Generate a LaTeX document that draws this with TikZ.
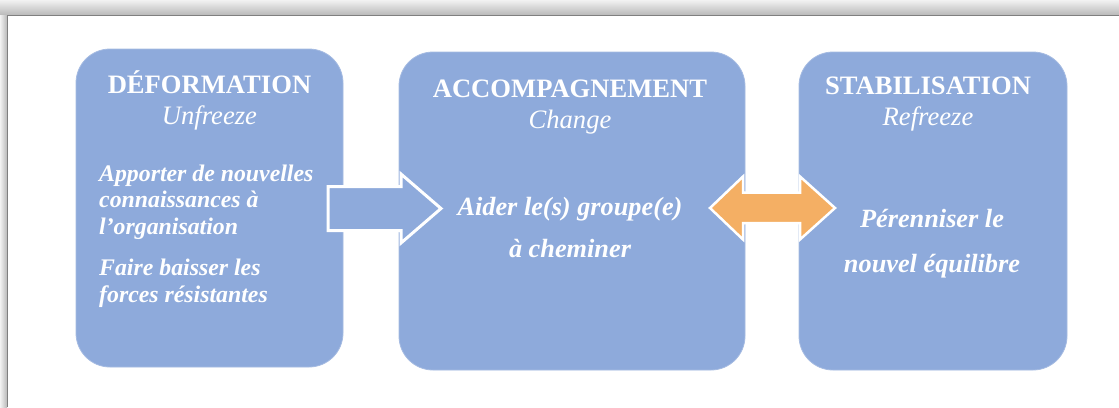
\documentclass[tikz,border=0pt]{standalone}
\usepackage{fontspec}
\setmainfont{Liberation Serif}
\definecolor{boxblue}{HTML}{8EAADB}
\definecolor{arrorange}{HTML}{F4AF64}
\definecolor{framegray}{HTML}{7F7F7F}
\begin{document}
\begin{tikzpicture}[x=1pt,y=-1pt,
  stagebox/.style={fill=boxblue, draw=boxblue!80!white, line width=0.8pt, rounded corners=34pt, inner sep=0pt},
  titletext/.style={text=white, inner sep=0pt, anchor=base, align=center, font=\fontsize{26.6}{31}\selectfont},
  bodytext/.style={text=white, inner sep=0pt, font=\fontsize{23.8}{26.7}\selectfont\bfseries\itshape},
  bigbody/.style={text=white, inner sep=0pt, anchor=base, align=center, font=\fontsize{26.3}{43}\selectfont\bfseries\itshape},
  blockarrow/.style={draw=white, line width=3pt, line join=miter}
]
\useasboundingbox (0,0) rectangle (1119,407);
% page with shadow
\fill[white] (0,0) rectangle (1119,407);
\shade[top color=gray!10, bottom color=gray!55] (0,0) rectangle (1119,15);
\shade[left color=gray!10, right color=gray!55] (0,15) rectangle (7,407);
\fill[white] (7,15) rectangle (1119,407);
\draw[framegray, line width=1.2pt] (7.5,407) -- (7.5,15.5) -- (1119,15.5);

% boxes
\node[stagebox, minimum width=267pt, minimum height=318pt] (b1) at (209.5,208) {};
\node[stagebox, minimum width=346pt, minimum height=318pt] (b2) at (572,211) {};
\node[stagebox, minimum width=268pt, minimum height=318pt] (b3) at (933,211) {};

% block arrow from b1 to b2
\filldraw[blockarrow, fill=boxblue]
  (328,186.5) -- (401,186.5) -- (401,174) -- (441,208.5) -- (401,243) -- (401,230.5) -- (328,230.5) -- cycle;
% double arrow between b2 and b3
\filldraw[blockarrow, fill=arrorange, line width=2.5pt]
  (710,208) -- (743,176.5) -- (743,192.5) -- (800,192.5) -- (800,176.5) -- (835,208)
  -- (800,239.5) -- (800,223) -- (743,223) -- (743,239.5) -- cycle;

% titles (anchor = baseline of last line)
\node[titletext] (t1) at (209.5,124) {\bfseries DÉFORMATION\\\itshape Unfreeze};
\node[titletext] (t2) at (570,128) {\bfseries ACCOMPAGNEMENT\\\itshape Change};
\node[titletext] (t3) at (928,125) {\bfseries STABILISATION\\\itshape Refreeze};

% body texts
\node[bodytext, anchor=base west, align=left] (x1) at (99,302)
  {Apporter de nouvelles\\connaissances à\\l’organisation\\[14pt]Faire baisser les\\forces résistantes};
\node[bigbody, font=\fontsize{26.3}{42}\selectfont\bfseries\itshape] (x2) at (570,257) {Aider le(s) groupe(e)\\à cheminer};
\node[bigbody, font=\fontsize{26.3}{45}\selectfont\bfseries\itshape] (x3) at (932,272) {Pérenniser le\\nouvel équilibre};
\end{tikzpicture}
\end{document}
